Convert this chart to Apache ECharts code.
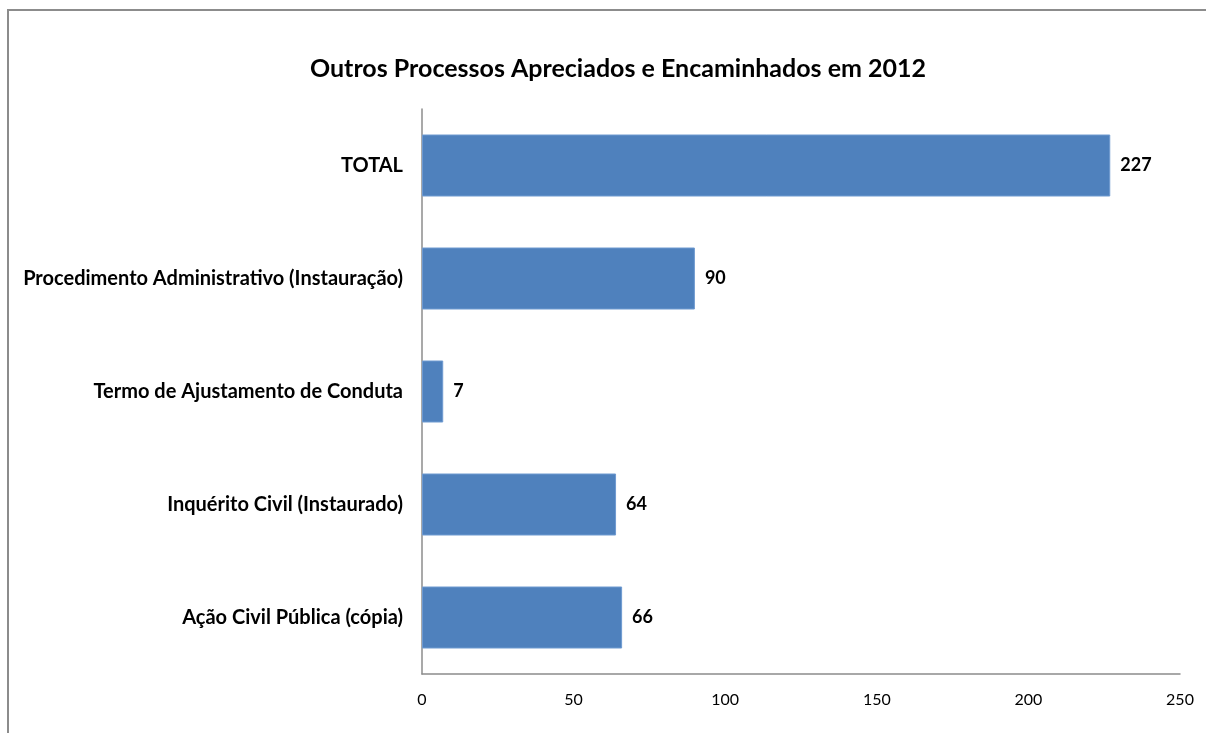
<!DOCTYPE html>
<html>
<head>
<meta charset="utf-8">
<script src="https://cdn.jsdelivr.net/npm/echarts@6/dist/echarts.min.js"></script>
<style>
html,body{margin:0;padding:0;background:#fff;}
#chart{width:1206px;height:733px;}
</style>
</head>
<body>
<div id="chart"></div>
<script>
const categories = [
  "Ação Civil Pública (cópia)",
  "Inquérito Civil (Instaurado)",
  "Termo de Ajustamento de Conduta",
  "Procedimento Administrativo (Instauração)",
  "TOTAL"
];
const values = [66, 64, 7, 90, 227];
const titleText = "Outros Processos Apreciados e Encaminhados em 2012";
const font = "Lato, 'Open Sans', sans-serif";

const chart = echarts.init(document.getElementById('chart'));
chart.setOption({
  animation: false,
  backgroundColor: '#ffffff',
  graphic: [{
    type: 'rect',
    shape: { x: 8, y: 10, width: 1300, height: 800 },
    style: { fill: 'none', stroke: '#8c8c8c', lineWidth: 2 },
    silent: true
  }],
  title: {
    text: titleText,
    left: 613,
    top: 51,
    textAlign: 'center',
    textStyle: { fontFamily: font, fontSize: 25, fontWeight: 'bold', color: '#000' }
  },
  grid: { left: 422, right: 26, top: 109, bottom: 59, containLabel: false },
  xAxis: {
    type: 'value',
    min: 0, max: 250, interval: 50,
    axisLine: { show: true, lineStyle: { color: '#8c8c8c', width: 1.5 } },
    axisTick: { show: false },
    splitLine: { show: false },
    axisLabel: { fontFamily: font, fontSize: 16, color: '#000', margin: 18 }
  },
  yAxis: {
    type: 'category',
    data: categories,
    axisLine: { show: true, lineStyle: { color: '#8c8c8c', width: 1.5 } },
    axisTick: { show: false },
    axisLabel: { fontFamily: font, fontSize: 20, fontWeight: 'bold', color: '#000', margin: 19 }
  },
  series: [{
    type: 'bar',
    data: values,
    barWidth: 62,
    itemStyle: { color: '#4F81BD', borderColor: '#6f9ad0', borderWidth: 1 },
    label: {
      show: true, position: 'right', distance: 10,
      fontFamily: font, fontSize: 18, fontWeight: 'bold', color: '#000'
    }
  }]
});
</script>
</body>
</html>
